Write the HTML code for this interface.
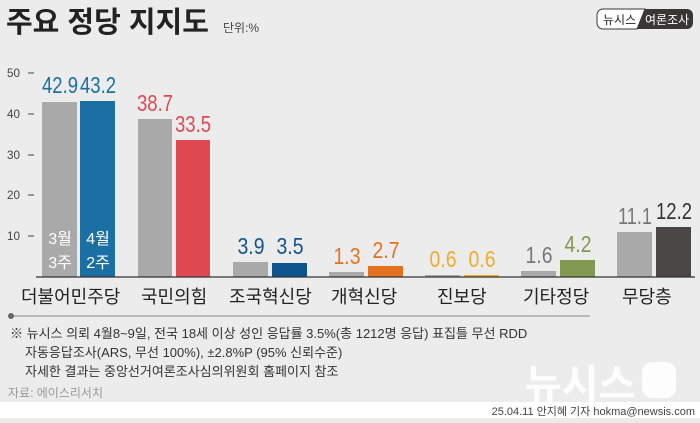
<!DOCTYPE html><html><head><meta charset="utf-8"><style>
body{margin:0;width:700px;height:418px;overflow:hidden;background:#ececec;font-family:"Liberation Sans","Noto Sans CJK KR",sans-serif}
</style></head><body>
<svg width="700" height="418" xmlns="http://www.w3.org/2000/svg" font-family="Liberation Sans, Noto Sans CJK KR, sans-serif">
<rect width="700" height="418" fill="#ececec"/>
<rect y="402" width="700" height="16" fill="#fff"/>
<text x="6" y="32" font-size="29" font-weight="bold" fill="#222">주요 정당 지지도</text>
<text x="223" y="32" font-size="12" fill="#444">단위:%</text>
<g transform="translate(597,9)">
<rect x="0" y="0" width="96" height="20" rx="6" fill="#3a3636"/>
<path d="M6 0 H48 L40 20 H6 A6 6 0 0 1 0 14 V6 A6 6 0 0 1 6 0Z" fill="#fff" stroke="#3a3636"/>
<text x="6" y="15" font-size="12" fill="#222">뉴시스</text>
<text x="48" y="15" font-size="12" fill="#fff">여론조사</text>
</g>
<g font-size="12" fill="#444">
<text x="7" y="77" textLength="13" lengthAdjust="spacingAndGlyphs">50</text><text x="7" y="118" textLength="13" lengthAdjust="spacingAndGlyphs">40</text><text x="7" y="159" textLength="13" lengthAdjust="spacingAndGlyphs">30</text><text x="7" y="199" textLength="13" lengthAdjust="spacingAndGlyphs">20</text><text x="7" y="240" textLength="13" lengthAdjust="spacingAndGlyphs">10</text>
</g>
<g stroke="#444" stroke-width="1"><line x1="28" y1="73" x2="34" y2="73"/><line x1="28" y1="114" x2="34" y2="114"/><line x1="28" y1="155" x2="34" y2="155"/><line x1="28" y1="195" x2="34" y2="195"/><line x1="28" y1="236" x2="34" y2="236"/></g>
<g>
<rect x="42" y="102" width="35" height="175" fill="#a9a9a9"/><rect x="80" y="101" width="35" height="176" fill="#1a6fa3"/>
<rect x="138" y="119" width="34" height="158" fill="#a9a9a9"/><rect x="176" y="140" width="34" height="137" fill="#df4a52"/>
<rect x="233" y="262" width="35" height="15" fill="#a9a9a9"/><rect x="272" y="263" width="35" height="14" fill="#0e5590"/>
<rect x="329" y="272" width="35" height="5" fill="#a9a9a9"/><rect x="368" y="266" width="35" height="11" fill="#e3711f"/>
<rect x="425" y="275" width="35" height="2" fill="#a9a9a9"/><rect x="464" y="275" width="35" height="2" fill="#f0ac2c"/>
<rect x="521" y="271" width="35" height="6" fill="#a9a9a9"/><rect x="560" y="260" width="35" height="17" fill="#819850"/>
<rect x="617" y="232" width="35" height="45" fill="#a9a9a9"/><rect x="656" y="227" width="35" height="50" fill="#4a4646"/>
</g>
<line x1="36" y1="277" x2="695" y2="277" stroke="#333" stroke-width="1.2"/>
<g font-size="23" text-anchor="middle" lengthAdjust="spacingAndGlyphs">
<text x="60" y="93" fill="#1a6fa3" textLength="36" lengthAdjust="spacingAndGlyphs">42.9</text><text x="98" y="93" fill="#1a6fa3" textLength="36" lengthAdjust="spacingAndGlyphs">43.2</text>
<text x="155" y="111" fill="#df4a52" textLength="36" lengthAdjust="spacingAndGlyphs">38.7</text><text x="193" y="132" fill="#df4a52" textLength="36" lengthAdjust="spacingAndGlyphs">33.5</text>
<text x="251" y="254" fill="#0e5590" textLength="27" lengthAdjust="spacingAndGlyphs">3.9</text><text x="290" y="254" fill="#0e5590" textLength="27" lengthAdjust="spacingAndGlyphs">3.5</text>
<text x="347" y="264" fill="#e3711f" textLength="27" lengthAdjust="spacingAndGlyphs">1.3</text><text x="386" y="258" fill="#e3711f" textLength="27" lengthAdjust="spacingAndGlyphs">2.7</text>
<text x="443" y="267" fill="#f0ac2c" textLength="27" lengthAdjust="spacingAndGlyphs">0.6</text><text x="482" y="267" fill="#f0ac2c" textLength="27" lengthAdjust="spacingAndGlyphs">0.6</text>
<text x="539" y="263" fill="#777" textLength="27" lengthAdjust="spacingAndGlyphs">1.6</text><text x="578" y="252" fill="#819850" textLength="27" lengthAdjust="spacingAndGlyphs">4.2</text>
<text x="635" y="224" fill="#777" textLength="34" lengthAdjust="spacingAndGlyphs">11.1</text><text x="674" y="219" fill="#333" textLength="36" lengthAdjust="spacingAndGlyphs">12.2</text>
</g>
<g font-size="16" text-anchor="middle" fill="#fff">
<text x="60" y="244">3월</text><text x="60" y="268">3주</text>
<text x="98" y="244">4월</text><text x="98" y="268">2주</text>
</g>
<g font-size="18" fill="#222">
<text x="21" y="303">더불어민주당</text><text x="141" y="303">국민의힘</text><text x="229" y="303">조국혁신당</text>
<text x="331" y="303">개혁신당</text><text x="437" y="303">진보당</text><text x="523" y="303">기타정당</text><text x="622" y="303">무당층</text>
</g>
<line x1="10" y1="316" x2="590" y2="316" stroke="#888" stroke-width="1"/>
<circle cx="11" cy="316" r="3" fill="#666"/>
<g font-size="13" fill="#333">
<text x="10" y="338">※ 뉴시스 의뢰 4월8~9일, 전국 18세 이상 성인 응답률 3.5%(총 1212명 응답) 표집틀 무선 RDD</text>
<text x="25" y="357">자동응답조사(ARS, 무선 100%), ±2.8%P (95% 신뢰수준)</text>
<text x="25" y="376">자세한 결과는 중앙선거여론조사심의위원회 홈페이지 참조</text>
</g>
<text x="8" y="397" font-size="12" fill="#999">자료: 에이스리서치</text>
<text x="525" y="398" font-size="40" font-weight="bold" fill="#fff" opacity="0.9">뉴시스</text>
<rect x="642" y="362" width="34" height="36" rx="10" fill="#fff" opacity="0.9"/>
<text x="695" y="415" font-size="11" fill="#444" text-anchor="end">25.04.11 안지혜 기자 hokma@newsis.com</text>
</svg>
</body></html>
